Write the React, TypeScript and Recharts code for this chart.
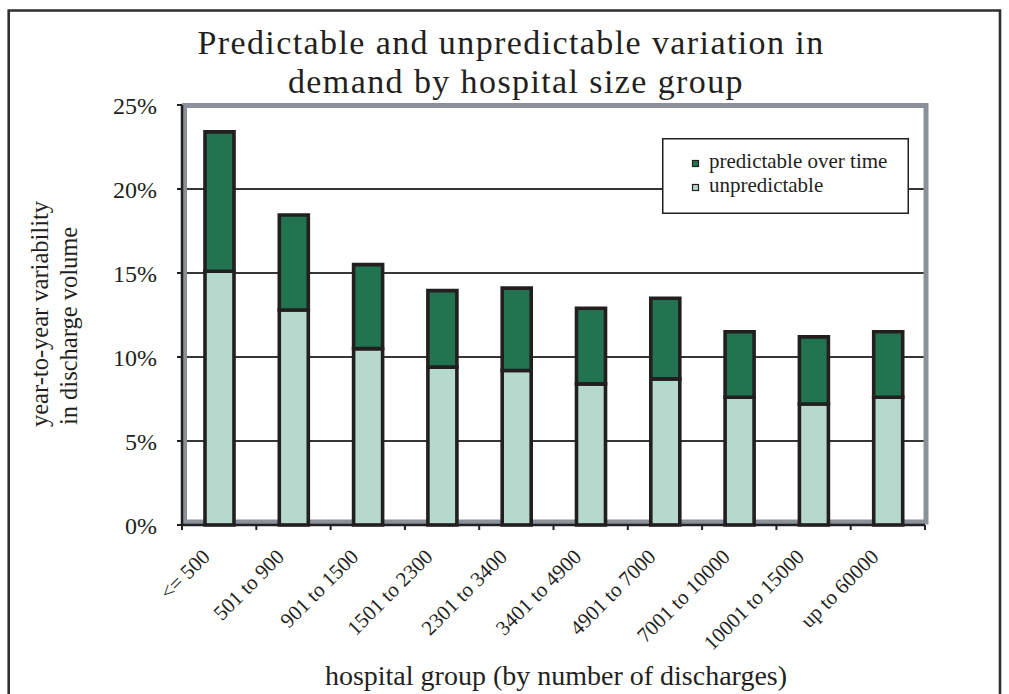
import React from "react";
import {
  BarChart,
  Bar,
  XAxis,
  YAxis,
  CartesianGrid,
  ReferenceArea,
  Legend,
} from "recharts";

// values (percent)
const categories = [
  "<= 500",
  "501 to 900",
  "901 to 1500",
  "1501 to 2300",
  "2301 to 3400",
  "3401 to 4900",
  "4901 to 7000",
  "7001 to 10000",
  "10001 to 15000",
  "up to 60000",
];
const unpredictable = [15.1, 12.8, 10.5, 9.4, 9.2, 8.4, 8.7, 7.6, 7.2, 7.6];
const predictable = [8.3, 5.65, 5.0, 4.55, 4.9, 4.5, 4.8, 3.9, 4.0, 3.9];
const yTicks = [0, 5, 10, 15, 20, 25];

const data = categories.map((name, i) => ({
  name,
  unpredictable: unpredictable[i],
  predictable: predictable[i],
}));

const W = 1009;
const H = 694;
const PLOT_LEFT = 182;
const PLOT_RIGHT = 925;
const PLOT_TOP = 105;
const PLOT_BOTTOM = 525;
const HALF_BAND = (PLOT_RIGHT - PLOT_LEFT) / categories.length / 2;

const INK = "#231f20";
const DARK_GREEN = "#22734f";
const LIGHT_GREEN = "#b5d9cd";
const FRAME_GRAY = "#8a9198";
const FONT = '"Liberation Serif", "Times New Roman", serif';

// legend order as in the picture: predictable first
const legendItems = [
  { name: "predictable over time", color: DARK_GREEN },
  { name: "unpredictable", color: LIGHT_GREEN },
];

function CategoryTick(props: any) {
  const { x, payload, index } = props;
  const lx = x - 8;
  const ly = 558;
  return (
    <g>
      <line x1={x - HALF_BAND} x2={x - HALF_BAND} y1={PLOT_BOTTOM} y2={PLOT_BOTTOM + 5} stroke={INK} strokeWidth={2} />
      {index === categories.length - 1 && (
        <line x1={x + HALF_BAND} x2={x + HALF_BAND} y1={PLOT_BOTTOM} y2={PLOT_BOTTOM + 5} stroke={INK} strokeWidth={2} />
      )}
      <text
        x={lx}
        y={ly}
        transform={`rotate(-45 ${lx} ${ly})`}
        textAnchor="end"
        fontSize={21}
        fontFamily={FONT}
        fill={INK}
      >
        {payload.value}
      </text>
    </g>
  );
}

function LegendBox() {
  return (
    <svg width={247} height={76} style={{ display: "block" }}>
      <rect x={0.75} y={0.75} width={245.5} height={74.5} fill="#fff" stroke={INK} strokeWidth={1.5} />
      {legendItems.map((item, i) => (
        <g key={item.name}>
          <rect x={30.5} y={22.5 + i * 24} width={6} height={6} fill={item.color} stroke={INK} strokeWidth={1.2} />
          <text x={47} y={29.5 + i * 24} fontSize={21} fontFamily={FONT} fill={INK}>
            {item.name}
          </text>
        </g>
      ))}
    </svg>
  );
}

// gray shadow frame of the plot area, sits slightly inside the axes
function PlotFrame(props: any) {
  const { x, y, width, height } = props;
  return (
    <rect
      x={x + 2.5}
      y={y + 0.5}
      width={width - 1.5}
      height={height - 3.5}
      fill="none"
      stroke={FRAME_GRAY}
      strokeWidth={5}
    />
  );
}

export default function App() {
  return (
    <div style={{ position: "absolute", left: 0, top: 0, width: W, height: H, overflow: "hidden", background: "#fff" }}>
      <BarChart
        width={W}
        height={H}
        data={data}
        margin={{ top: PLOT_TOP, right: W - PLOT_RIGHT, bottom: H - PLOT_BOTTOM - 100, left: 0 }}
        barSize={29}
      >
        <CartesianGrid vertical={false} stroke={INK} strokeWidth={2} strokeOpacity={0.9} />
        <ReferenceArea y1={0} y2={25} ifOverflow="visible" shape={PlotFrame} />
        <XAxis
          dataKey="name"
          height={100}
          interval={0}
          axisLine={{ stroke: INK, strokeWidth: 2.5 }}
          tickLine={false}
          tick={<CategoryTick />}
        />
        <YAxis
          width={PLOT_LEFT}
          domain={[0, 25]}
          ticks={yTicks}
          tickFormatter={(v: number) => `${v}%`}
          axisLine={{ stroke: INK, strokeWidth: 2.5 }}
          tickLine={{ stroke: INK, strokeWidth: 2 }}
          tickSize={5}
          tickMargin={20}
          tick={{ fontSize: 24, fontFamily: FONT, fill: INK }}
        />
        <Bar dataKey="unpredictable" name="unpredictable" stackId="a" fill={LIGHT_GREEN} stroke={INK} strokeWidth={3.6} isAnimationActive={false} />
        <Bar dataKey="predictable" name="predictable over time" stackId="a" fill={DARK_GREEN} stroke={INK} strokeWidth={3.6} isAnimationActive={false} />
        <Legend
          layout="horizontal"
          verticalAlign="middle"
          align="center"
          wrapperStyle={{ position: "absolute", left: 662, top: 138, width: 247, height: 76 }}
          content={() => <LegendBox />}
        />
      </BarChart>

      <svg width={W} height={H} style={{ position: "absolute", left: 0, top: 0, pointerEvents: "none" }}>
        <path d={`M8.7 ${H + 5} V10.5 H1000 V${H + 5}`} fill="none" stroke="#2f2f2f" strokeWidth={2.6} />
        <text x={511} y={54} textAnchor="middle" fontSize={34} letterSpacing={1.4} fontFamily={FONT} fill={INK}>
          Predictable and unpredictable variation in
        </text>
        <text x={516} y={92.5} textAnchor="middle" fontSize={34} letterSpacing={1.4} fontFamily={FONT} fill={INK}>
          demand by hospital size group
        </text>
        <text x={48} y={314} transform="rotate(-90 48 314)" textAnchor="middle" fontSize={24.5} fontFamily={FONT} fill={INK}>
          year-to-year variability
        </text>
        <text x={77} y={326} transform="rotate(-90 77 326)" textAnchor="middle" fontSize={24.5} fontFamily={FONT} fill={INK}>
          in discharge volume
        </text>
        <text x={556} y={685} textAnchor="middle" fontSize={28} fontFamily={FONT} fill={INK}>
          hospital group (by number of discharges)
        </text>
      </svg>
    </div>
  );
}
